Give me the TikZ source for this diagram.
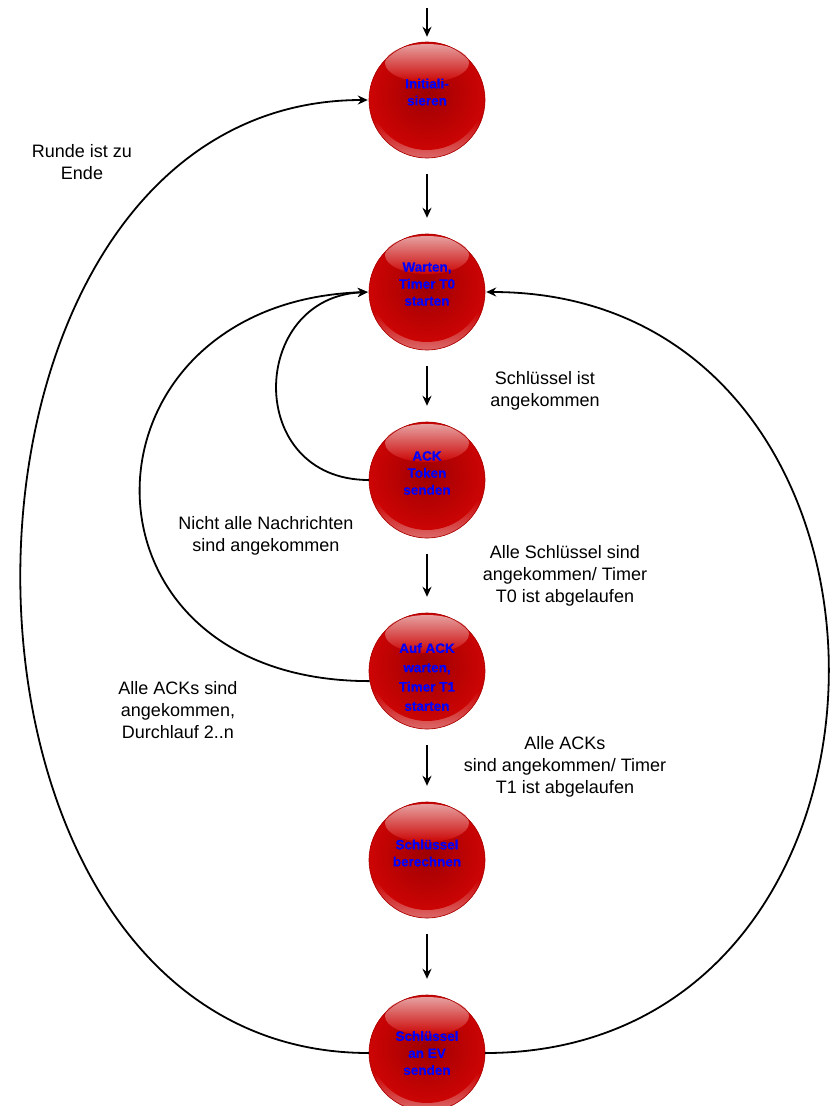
\documentclass[tikz,border=0pt]{standalone}
\usepackage{fontspec}
\setmainfont{Liberation Sans}
\usetikzlibrary{arrows.meta}

\definecolor{ballcore}{RGB}{158,0,2}
\definecolor{ballrim}{RGB}{204,4,4}
\definecolor{ballshine}{RGB}{230,160,160}
\definecolor{balledge}{RGB}{170,0,0}
\definecolor{ballglow}{RGB}{220,105,105}

% glossy red sphere of radius 58pt around a named coordinate
\newcommand\glossyball[1]{%
  \begin{scope}[shift={(#1)}]
    \shade[inner color=ballcore, outer color=ballrim]
      (0pt,0pt) circle[radius=58pt];
    \begin{scope}
      \clip (0pt,0pt) circle[radius=58pt];
      % light reflection along the lower rim
      \shade[top color=ballrim, bottom color=ballglow]
        (-58pt,-58pt) rectangle (58pt,-20pt);
      \shade[inner color=ballcore, outer color=ballrim]
        (0pt,6pt) ellipse[x radius=57pt, y radius=56pt];
    \end{scope}
    % highlight on top
    \shade[top color=ballshine, middle color=ballrim!60!ballshine,
           bottom color=ballrim]
      (0pt,37pt) ellipse[x radius=42pt, y radius=19pt];
    \draw[balledge, line width=0.6pt] (0pt,0pt) circle[radius=58pt];
  \end{scope}}

\tikzset{
  ball/.style={circle, minimum size=116pt, inner sep=0pt},
  balltext/.style={align=center, text=blue, inner sep=0pt,
    font=\bfseries\fontsize{13.5}{17}\selectfont\addfontfeature{FakeBold=0.6}},
  lbl/.style={align=center, font=\fontsize{18}{22}\selectfont},
  tip/.style={-{Stealth[length=10pt,width=9pt]}},
  stepline/.style={tip, line width=2.3pt, shorten <=16pt, shorten >=16pt},
  loopline/.style={tip, line width=1.8pt, shorten >=1pt}
}

\begin{document}
\begin{tikzpicture}[x=1pt, y=-1pt]
  \useasboundingbox (0,0) rectangle (831,1106);

  % sphere positions
  \coordinate (c1) at (427,100);
  \coordinate (c2) at (427,292);
  \coordinate (c3) at (427,480);
  \coordinate (c4) at (427,671);
  \coordinate (c5) at (427,860);
  \coordinate (c6) at (427,1053);
  \foreach \c in {c1,c2,c3,c4,c5,c6} {\glossyball{\c}}

  % states
  \node[ball] (n1) at (c1) {};
  \node[ball] (n2) at (c2) {};
  \node[ball] (n3) at (c3) {};
  \node[ball] (n4) at (c4) {};
  \node[ball] (n5) at (c5) {};
  \node[ball] (n6) at (c6) {};

  % state names
  \node[balltext] (t1) at ([yshift=8pt]c1) {Initiali-\\sieren};
  \node[balltext] (t2) at ([yshift=8pt]c2) {Warten,\\Timer T0\\starten};
  \node[balltext] (t3) at ([yshift=7pt]c3) {ACK\\Token\\senden};
  \node[balltext, font=\bfseries\fontsize{13.5}{19.3}\selectfont\addfontfeature{FakeBold=0.6}]
    (t4) at ([yshift=-6pt]c4) {Auf ACK\\warten,\\Timer T1\\starten};
  \node[balltext] (t5) at ([yshift=7pt]c5) {Schlüssel\\berechnen};
  \node[balltext] (t6) at (c6) {Schlüssel\\an EV\\senden};

  % entry
  \coordinate (start) at (427,8);
  \draw[tip, line width=2.3pt, shorten >=5pt] (start) -- (n1);

  % straight transitions
  \draw[stepline] (n1) -- (n2);
  \draw[stepline] (n2) -- (n3);
  \draw[stepline] (n3) -- (n4);
  \draw[stepline] (n4) -- (n5);
  \draw[stepline] (n5) -- (n6);

  % feedback transitions
  \draw[loopline] (n6.west) .. controls +(-467,0) and +(-460,0) .. (n1.west);
  \draw[loopline] (n6.east) .. controls +(457,0) and +(457,0) .. (n2.east);
  \draw[loopline] (n3.west) .. controls +(-125,0) and +(-120,5) .. (n2.west);
  \draw[loopline] (n4.190) .. controls +(-310,0) and +(-300,10) .. (n2.west);

  % transition labels
  \node[lbl] (l1) at (82,162)  {Runde ist zu\\Ende};
  \node[lbl] (l2) at (545,391) {Schlüssel ist\\angekommen};
  \node[lbl] (l3) at (266,536) {Nicht alle Nachrichten\\sind angekommen};
  \node[lbl] (l4) at (565,576) {Alle Schlüssel sind\\angekommen/ Timer\\T0 ist abgelaufen};
  \node[lbl] (l5) at (178,710) {Alle ACKs sind\\angekommen,\\Durchlauf 2..n};
  \node[lbl] (l6) at (565,767) {Alle ACKs\\sind angekommen/ Timer\\T1 ist abgelaufen};
\end{tikzpicture}
\end{document}
